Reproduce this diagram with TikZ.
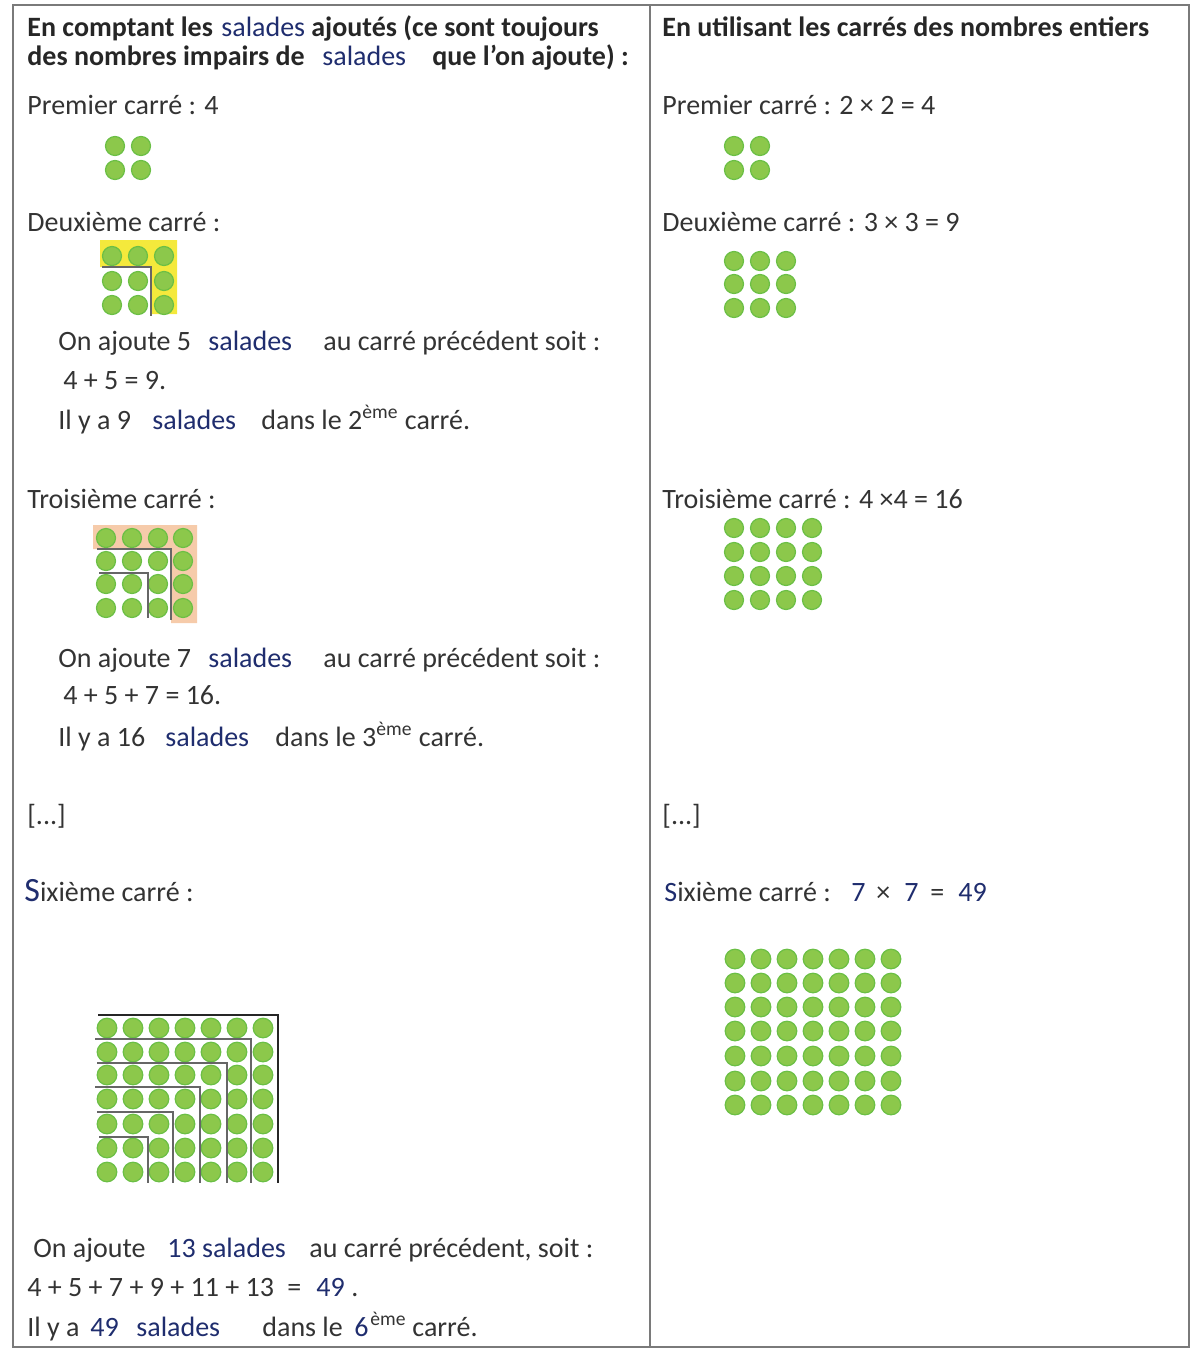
\documentclass[tikz,border=0pt]{standalone}
\usepackage{fontspec}
\setmainfont{Carlito}
\definecolor{txt}{HTML}{333333}
\definecolor{navy}{HTML}{1F2D6E}
\definecolor{dotf}{HTML}{8CC84B}
\definecolor{dotd}{HTML}{6BBF45}
\definecolor{yel}{HTML}{F4E93C}
\definecolor{peach}{HTML}{F6CBAA}
\definecolor{frame}{HTML}{7A7A7A}
\begin{document}
\begin{tikzpicture}[x=0.5pt,y=-0.5pt,
  t/.style={anchor=base west, inner sep=0pt, font=\fontsize{14}{16}\selectfont, text=txt},
  b/.style={t, text=navy},
  hb/.style={t, font=\fontsize{14}{16}\selectfont\bfseries, text=black!85},
  dot/.style={fill=dotf, draw=dotd, line width=0.6pt},
  lline/.style={draw=black!60, line width=1pt},
  oline/.style={draw=black!85, line width=1.3pt}]
\useasboundingbox (0,0) rectangle (1192,1350);
% frame
\draw[frame, line width=1pt] (13,5) rectangle (1189,1347);
\draw[frame, line width=1pt] (650,5) -- (650,1347);

% ---------- left column ----------
\node[hb] (h1a) at (27,36) {En comptant les};
\node[b]  (h1b) at (221,36) {salades};
\node[hb] (h1c) at (311,36) {ajoutés (ce sont toujours};
\node[hb] (h2a) at (27,65) {des nombres impairs de};
\node[b]  (h2b) at (322,65) {salades};
\node[hb] (h2c) at (432,65) {que l’on ajoute) :};

\node[t] (p1) at (27,114) {Premier carré : 4};
\foreach \x in {115,141} \foreach \y in {146,170} \path[dot] (\x,\y) circle[radius=4.75pt];

\node[t] (d1) at (27,231) {Deuxième carré :};
\fill[yel] (100,240) -- (177,240) -- (177,314) -- (151,314) -- (151,267) -- (100,267) -- cycle;
\foreach \x in {112,138,164} \foreach \y in {256,281,305} \path[dot] (\x,\y) circle[radius=4.75pt];
\draw[lline] (102,267) -- (151,267) -- (151,316);

\node[t] (a5a) at (58,350) {On ajoute 5};
\node[b] (a5b) at (208,350) {salades};
\node[t] (a5c) at (323,350) {au carré précédent soit :};
\node[t] (s5) at (63,389) {4 + 5 = 9.};
\node[t] (i9a) at (58,429) {Il y a 9};
\node[b] (i9b) at (152,429) {salades};
\node[t] (i9c) at (261,429) {dans le 2\textsuperscript{ème} carré.};

\node[t] (t1) at (27,508) {Troisième carré :};
\fill[peach] (93,525) -- (197,525) -- (197,623) -- (171,623) -- (171,549) -- (93,549) -- cycle;
\foreach \x in {106,132,158,183} \foreach \y in {538,561,584,608} \path[dot] (\x,\y) circle[radius=4.75pt];
\draw[lline] (97,549) -- (171,549) -- (171,620);
\draw[lline] (99,573) -- (148,573) -- (148,618);

\node[t] (a7a) at (58,667) {On ajoute 7};
\node[b] (a7b) at (208,667) {salades};
\node[t] (a7c) at (323,667) {au carré précédent soit :};
\node[t] (s7) at (63,704) {4 + 5 + 7 = 16.};
\node[t] (i16a) at (58,746) {Il y a 16};
\node[b] (i16b) at (165,746) {salades};
\node[t] (i16c) at (275,746) {dans le 3\textsuperscript{ème} carré.};

\node[t] (e1) at (27,824) {[...]};
\node[t] (x1) at (24,901) {{\color{navy}\fontsize{17}{18}\selectfont S}ixième carré :};
\foreach \x in {107,133,159,185,211,237,263} \foreach \y in {1028,1052,1075,1099,1124,1148,1172} \path[dot] (\x,\y) circle[radius=4.9pt];
\draw[oline] (98,1015) -- (278,1015) -- (278,1183);
\draw[lline] (95,1039) -- (251,1039) -- (251,1183);
\draw[lline] (97,1063) -- (227,1063) -- (227,1183);
\draw[lline] (95,1087) -- (200,1087) -- (200,1183);
\draw[lline] (97,1112) -- (173,1112) -- (173,1183);
\draw[lline] (99,1137) -- (148,1137) -- (148,1183);

\node[t] (a13a) at (33,1257) {On ajoute};
\node[b] (a13b) at (167,1257) {13 salades};
\node[t] (a13c) at (309,1257) {au carré précédent, soit :};
\node[t] (s13a) at (27,1296) {4 + 5 + 7 + 9 + 11 + 13};
\node[t] (s13b) at (287,1296) {=};
\node[b] (s13c) at (316,1296) {49};
\node[t] (s13d) at (351,1296) {.};
\node[t] (i49a) at (27,1336) {Il y a};
\node[b] (i49b) at (90,1336) {49};
\node[b] (i49c) at (136,1336) {salades};
\node[t] (i49d) at (262,1336) {dans le};
\node[b] (i49e) at (354,1336) {6};
\node[t] (i49f) at (370,1336) {\textsuperscript{ème}};
\node[t] (i49g) at (412,1336) {carré.};

% ---------- right column ----------
\node[hb] (rh) at (662,36) {En utilisant les carrés des nombres entiers};
\node[t] (rp) at (662,114) {Premier carré : 2 × 2 = 4};
\foreach \x in {734,760} \foreach \y in {146,170} \path[dot] (\x,\y) circle[radius=4.75pt];
\node[t] (rd) at (662,231) {Deuxième carré : 3 × 3 = 9};
\foreach \x in {734,760,786} \foreach \y in {261,284,308} \path[dot] (\x,\y) circle[radius=4.75pt];
\node[t] (rt) at (662,508) {Troisième carré : 4 ×4 = 16};
\foreach \x in {734,760,786,812} \foreach \y in {528,552,576,600} \path[dot] (\x,\y) circle[radius=4.75pt];
\node[t] (re) at (662,824) {[...]};
\node[t] (rs) at (664,901) {{\color{navy}S}ixième carré :};
\node[b] (rs1) at (851,901) {7};
\node[t] (rs2) at (876,901) {×};
\node[b] (rs3) at (904,901) {7};
\node[t] (rs4) at (930,901) {=};
\node[b] (rs5) at (958,901) {49};
\foreach \x in {735,761,787,813,839,865,891} \foreach \y in {959,983,1007,1031,1056,1081,1105} \path[dot] (\x,\y) circle[radius=4.9pt];
\end{tikzpicture}
\end{document}
